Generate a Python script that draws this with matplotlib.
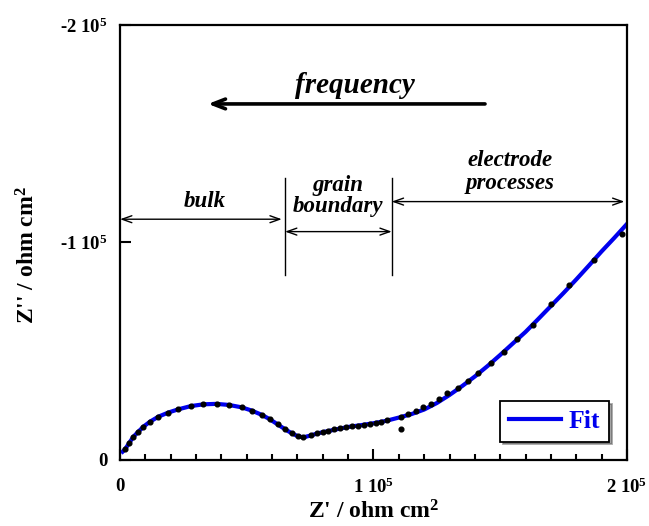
import numpy as np
import matplotlib
matplotlib.use("Agg")
from matplotlib import pyplot as plt
from matplotlib.ticker import MultipleLocator, FixedLocator

plt.rcParams['font.family'] = ['Liberation Serif', 'DejaVu Serif']
plt.rcParams['font.weight'] = 'bold'
plt.rcParams['axes.labelweight'] = 'bold'
plt.rcParams['mathtext.default'] = 'regular'

# measured points (Z' and -Z'' in ohm cm2)
z_re = [2000, 3550, 5250, 7200, 9200, 11800, 15100, 19050, 23000, 28000,
        32900, 38100, 43000, 48000, 52200, 55900, 59200, 62200, 65100, 67700,
        70100, 72300, 75200, 77600, 80000, 82200, 84400, 86800, 89150, 91400,
        94000, 96250, 98600, 101000, 102850, 105200, 110700, 110700, 113700, 116800,
        119650, 122700, 125850, 129100, 133500, 137150, 141350, 146350, 151600, 156700,
        163050, 169900, 177250, 187000, 197900]
z_im = [5050, 7700, 10700, 13000, 15300, 17600, 19900, 21750, 23300, 24800,
        25600, 25750, 25300, 24200, 22650, 20700, 18700, 16400, 14100, 12300,
        11000, 10450, 11500, 12300, 12900, 13450, 14100, 14550, 15050, 15750,
        15450, 15950, 16400, 16850, 17350, 18400, 19900, 14100, 21150, 22650,
        24250, 25750, 28050, 30650, 33250, 36450, 40150, 44450, 49800, 55500,
        62200, 71600, 80300, 91950, 103900]

# fitted curve
fit_re = [1000, 2000, 3500, 5200, 7200, 9200, 11800, 15100, 19000, 23000,
          28000, 33000, 38000, 43000, 48000, 52000, 56000, 59000, 62000, 65000,
          67700, 70000, 72300, 75000, 77600, 80000, 85000, 90000, 95000, 100000,
          105000, 110000, 115000, 120000, 125000, 130000, 135000, 140000, 145000, 150000,
          155000, 160000, 165000, 170000, 175000, 180000, 185000, 190000, 195000, 200000]
fit_im = [3800, 5000, 7600, 10600, 13000, 15300, 17600, 19900, 21800, 23300,
          24800, 25600, 25800, 25300, 24200, 22700, 20700, 18800, 16500, 14200,
          12300, 11000, 10400, 11200, 12100, 12800, 14000, 15200, 16000, 16900,
          18000, 19500, 21100, 23200, 26200, 29900, 34000, 38400, 43200, 48300,
          53600, 58900, 64800, 70800, 76800, 83000, 89400, 95900, 102100, 108500]

fig = plt.figure(figsize=(6.49, 5.26), dpi=100)
ax = fig.add_axes([0.185, 0.1255, 0.781, 0.827])

ax.plot(fit_re, -np.array(fit_im), color='#0000ee', lw=3.0, label='Fit', zorder=2)
ax.plot(z_re, -np.array(z_im), 'o', color='black', ms=3.4, zorder=3)

ax.set_xlim(0, 2e5)
ax.set_ylim(0, -2e5)

ax.xaxis.set_major_locator(FixedLocator([0, 1e5, 2e5]))
ax.xaxis.set_minor_locator(MultipleLocator(1e4))
ax.set_xticklabels(['0', '1 10$^5$', '2 10$^5$'])
ax.yaxis.set_major_locator(FixedLocator([0, -1e5, -2e5]))
ax.set_yticklabels(['0', '-1 10$^5$', '-2 10$^5$'])
ax.tick_params(which='both', direction='in', labelsize=13.5, width=1.5)
ax.tick_params(which='major', length=8)
ax.tick_params(which='minor', length=4.5)
ax.tick_params(axis='x', pad=13)
ax.tick_params(axis='y', pad=9)
for s in ax.spines.values():
    s.set_linewidth(1.6)

ax.set_xlabel("Z' / ohm cm$^2$", fontsize=17)
ax.set_ylabel("Z'' / ohm cm$^2$", fontsize=17)
ax.xaxis.set_label_coords(0.5, -0.12)
ax.xaxis.label.set_va('center')
ax.yaxis.set_label_coords(-0.182, 0.471)
ax.yaxis.label.set_va('center')

# annotations
ax.text(92700, -172400, 'frequency', fontsize=21, style='italic',
        ha='center', va='center')
ax.annotate('', xy=(34700, -163700), xytext=(144000, -163700),
            arrowprops=dict(arrowstyle='->,head_length=0.9,head_width=0.35',
                            lw=2.6, color='black', shrinkA=0, shrinkB=0))

thin = dict(arrowstyle='<->,head_length=0.7,head_width=0.25', lw=1.0,
            color='black', shrinkA=0, shrinkB=0)
ax.annotate('', xy=(0, -110700), xytext=(63800, -110700), arrowprops=thin)
ax.annotate('', xy=(65100, -105000), xytext=(107200, -105000), arrowprops=thin)
ax.annotate('', xy=(107200, -118800), xytext=(199000, -118800), arrowprops=thin)

ax.plot([65100, 65100], [-129500, -85000], color='black', lw=1.0)
ax.plot([107200, 107200], [-129500, -85000], color='black', lw=1.0)

ax.text(33500, -118800, 'bulk', fontsize=16.5, style='italic', ha='center', va='center')
ax.text(86100, -121500, 'grain\nboundary', fontsize=16.5, style='italic',
        ha='center', va='center', linespacing=1.0)
ax.text(153850, -132500, 'electrode\nprocesses', fontsize=16.5, style='italic',
        ha='center', va='center', linespacing=1.1)

leg = ax.legend(loc='lower right', bbox_to_anchor=(0.9645, 0.042), borderaxespad=0,
                fancybox=False, shadow=True, handlelength=2.0, handletextpad=0.3,
                borderpad=0.35, prop={'weight': 'bold', 'size': 18.5})
leg.get_frame().set_edgecolor('black')
leg.get_frame().set_linewidth(1.3)
for t in leg.get_texts():
    t.set_color('#0000ee')

plt.savefig('out.png', dpi=100)
plt.close()
